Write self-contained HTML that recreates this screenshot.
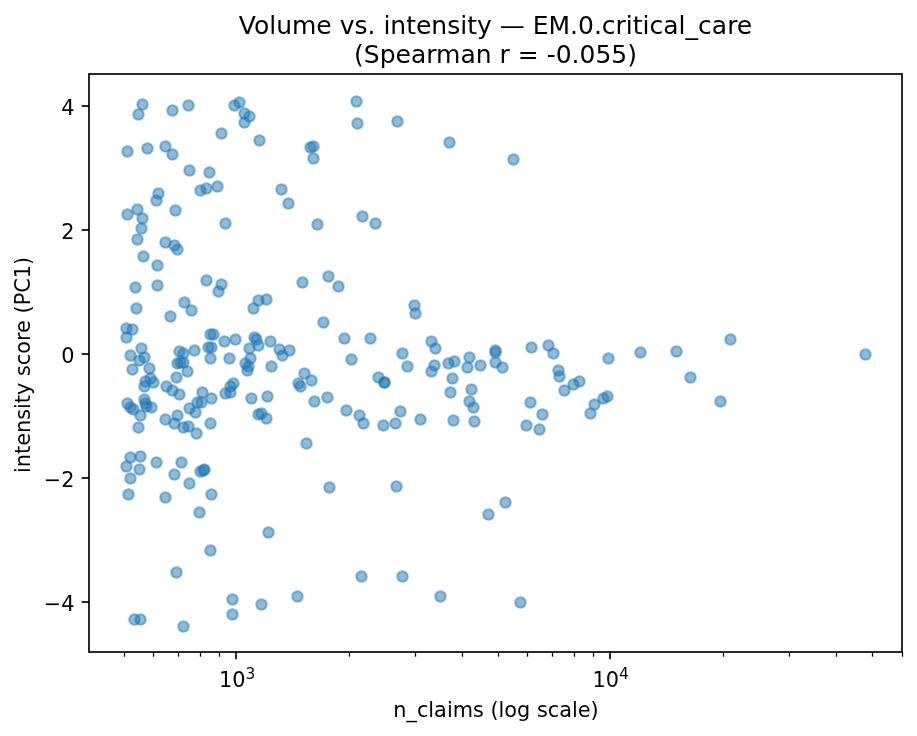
<!DOCTYPE html><html><head><meta charset="utf-8"><title>Volume vs. intensity</title><style>
html,body{margin:0;padding:0;background:#fff;width:917px;height:736px;overflow:hidden}
svg{display:block;will-change:transform}
text{font-family:"DejaVu Sans","Liberation Sans",sans-serif;fill:#000}
</style></head><body>
<svg width="917" height="736" viewBox="0 0 917 736">
<rect x="0" y="0" width="917" height="736" fill="#fff"/>
<g fill="#1f77b4" fill-opacity="0.5" stroke="#1f77b4" stroke-opacity="0.5" stroke-width="2.083">
<circle cx="142.50" cy="104.50" r="5.21"/>
<circle cx="138.50" cy="114.50" r="5.21"/>
<circle cx="172.50" cy="110.50" r="5.21"/>
<circle cx="188.50" cy="105.50" r="5.21"/>
<circle cx="234.50" cy="105.50" r="5.21"/>
<circle cx="239.50" cy="102.50" r="5.21"/>
<circle cx="244.50" cy="113.50" r="5.21"/>
<circle cx="249.50" cy="116.50" r="5.21"/>
<circle cx="244.50" cy="122.50" r="5.21"/>
<circle cx="221.50" cy="133.50" r="5.21"/>
<circle cx="259.50" cy="140.50" r="5.21"/>
<circle cx="127.50" cy="151.50" r="5.21"/>
<circle cx="147.50" cy="148.50" r="5.21"/>
<circle cx="165.50" cy="146.50" r="5.21"/>
<circle cx="172.50" cy="154.50" r="5.21"/>
<circle cx="189.50" cy="170.50" r="5.21"/>
<circle cx="209.50" cy="172.50" r="5.21"/>
<circle cx="200.50" cy="190.50" r="5.21"/>
<circle cx="206.50" cy="188.50" r="5.21"/>
<circle cx="217.50" cy="186.50" r="5.21"/>
<circle cx="158.50" cy="193.50" r="5.21"/>
<circle cx="156.50" cy="200.50" r="5.21"/>
<circle cx="175.50" cy="210.50" r="5.21"/>
<circle cx="225.50" cy="223.50" r="5.21"/>
<circle cx="137.50" cy="209.50" r="5.21"/>
<circle cx="127.50" cy="214.50" r="5.21"/>
<circle cx="142.50" cy="218.50" r="5.21"/>
<circle cx="141.50" cy="228.50" r="5.21"/>
<circle cx="137.50" cy="239.50" r="5.21"/>
<circle cx="165.50" cy="242.50" r="5.21"/>
<circle cx="174.50" cy="245.50" r="5.21"/>
<circle cx="177.50" cy="249.50" r="5.21"/>
<circle cx="143.50" cy="256.50" r="5.21"/>
<circle cx="356.50" cy="101.50" r="5.21"/>
<circle cx="357.50" cy="123.50" r="5.21"/>
<circle cx="397.50" cy="121.50" r="5.21"/>
<circle cx="449.50" cy="142.50" r="5.21"/>
<circle cx="310.50" cy="147.50" r="5.21"/>
<circle cx="313.50" cy="146.50" r="5.21"/>
<circle cx="313.50" cy="158.50" r="5.21"/>
<circle cx="281.50" cy="189.50" r="5.21"/>
<circle cx="288.50" cy="203.50" r="5.21"/>
<circle cx="317.50" cy="224.50" r="5.21"/>
<circle cx="362.50" cy="216.50" r="5.21"/>
<circle cx="375.50" cy="223.50" r="5.21"/>
<circle cx="513.50" cy="159.50" r="5.21"/>
<circle cx="157.50" cy="265.50" r="5.21"/>
<circle cx="135.50" cy="287.50" r="5.21"/>
<circle cx="157.50" cy="285.50" r="5.21"/>
<circle cx="136.50" cy="308.50" r="5.21"/>
<circle cx="170.50" cy="316.50" r="5.21"/>
<circle cx="126.50" cy="328.50" r="5.21"/>
<circle cx="132.50" cy="329.50" r="5.21"/>
<circle cx="126.50" cy="337.50" r="5.21"/>
<circle cx="206.50" cy="280.50" r="5.21"/>
<circle cx="221.50" cy="284.50" r="5.21"/>
<circle cx="218.50" cy="291.50" r="5.21"/>
<circle cx="184.50" cy="302.50" r="5.21"/>
<circle cx="191.50" cy="310.50" r="5.21"/>
<circle cx="258.50" cy="300.50" r="5.21"/>
<circle cx="266.50" cy="299.50" r="5.21"/>
<circle cx="253.50" cy="308.50" r="5.21"/>
<circle cx="141.50" cy="348.50" r="5.21"/>
<circle cx="130.50" cy="355.50" r="5.21"/>
<circle cx="144.50" cy="357.50" r="5.21"/>
<circle cx="139.50" cy="360.50" r="5.21"/>
<circle cx="132.50" cy="369.50" r="5.21"/>
<circle cx="149.50" cy="368.50" r="5.21"/>
<circle cx="166.50" cy="386.50" r="5.21"/>
<circle cx="172.50" cy="390.50" r="5.21"/>
<circle cx="150.50" cy="378.50" r="5.21"/>
<circle cx="145.50" cy="381.50" r="5.21"/>
<circle cx="153.50" cy="382.50" r="5.21"/>
<circle cx="144.50" cy="386.50" r="5.21"/>
<circle cx="210.50" cy="334.50" r="5.21"/>
<circle cx="213.50" cy="334.50" r="5.21"/>
<circle cx="224.50" cy="341.50" r="5.21"/>
<circle cx="235.50" cy="339.50" r="5.21"/>
<circle cx="254.50" cy="337.50" r="5.21"/>
<circle cx="256.50" cy="339.50" r="5.21"/>
<circle cx="258.50" cy="345.50" r="5.21"/>
<circle cx="249.50" cy="348.50" r="5.21"/>
<circle cx="194.50" cy="350.50" r="5.21"/>
<circle cx="208.50" cy="347.50" r="5.21"/>
<circle cx="211.50" cy="347.50" r="5.21"/>
<circle cx="210.50" cy="358.50" r="5.21"/>
<circle cx="229.50" cy="358.50" r="5.21"/>
<circle cx="179.50" cy="351.50" r="5.21"/>
<circle cx="183.50" cy="353.50" r="5.21"/>
<circle cx="177.50" cy="363.50" r="5.21"/>
<circle cx="183.50" cy="362.50" r="5.21"/>
<circle cx="187.50" cy="371.50" r="5.21"/>
<circle cx="176.50" cy="377.50" r="5.21"/>
<circle cx="250.50" cy="358.50" r="5.21"/>
<circle cx="245.50" cy="363.50" r="5.21"/>
<circle cx="248.50" cy="366.50" r="5.21"/>
<circle cx="247.50" cy="370.50" r="5.21"/>
<circle cx="233.50" cy="383.50" r="5.21"/>
<circle cx="230.50" cy="386.50" r="5.21"/>
<circle cx="225.50" cy="393.50" r="5.21"/>
<circle cx="230.50" cy="392.50" r="5.21"/>
<circle cx="251.50" cy="398.50" r="5.21"/>
<circle cx="202.50" cy="392.50" r="5.21"/>
<circle cx="211.50" cy="398.50" r="5.21"/>
<circle cx="201.50" cy="402.50" r="5.21"/>
<circle cx="197.50" cy="402.50" r="5.21"/>
<circle cx="189.50" cy="408.50" r="5.21"/>
<circle cx="179.50" cy="394.50" r="5.21"/>
<circle cx="127.50" cy="403.50" r="5.21"/>
<circle cx="130.50" cy="407.50" r="5.21"/>
<circle cx="133.50" cy="409.50" r="5.21"/>
<circle cx="140.50" cy="415.50" r="5.21"/>
<circle cx="144.50" cy="399.50" r="5.21"/>
<circle cx="145.50" cy="403.50" r="5.21"/>
<circle cx="146.50" cy="406.50" r="5.21"/>
<circle cx="151.50" cy="407.50" r="5.21"/>
<circle cx="138.50" cy="427.50" r="5.21"/>
<circle cx="165.50" cy="419.50" r="5.21"/>
<circle cx="177.50" cy="415.50" r="5.21"/>
<circle cx="174.50" cy="423.50" r="5.21"/>
<circle cx="130.50" cy="457.50" r="5.21"/>
<circle cx="140.50" cy="456.50" r="5.21"/>
<circle cx="126.50" cy="466.50" r="5.21"/>
<circle cx="139.50" cy="469.50" r="5.21"/>
<circle cx="130.50" cy="478.50" r="5.21"/>
<circle cx="156.50" cy="462.50" r="5.21"/>
<circle cx="174.50" cy="474.50" r="5.21"/>
<circle cx="195.50" cy="412.50" r="5.21"/>
<circle cx="183.50" cy="427.50" r="5.21"/>
<circle cx="188.50" cy="426.50" r="5.21"/>
<circle cx="196.50" cy="433.50" r="5.21"/>
<circle cx="210.50" cy="423.50" r="5.21"/>
<circle cx="258.50" cy="414.50" r="5.21"/>
<circle cx="261.50" cy="413.50" r="5.21"/>
<circle cx="181.50" cy="462.50" r="5.21"/>
<circle cx="189.50" cy="483.50" r="5.21"/>
<circle cx="200.50" cy="471.50" r="5.21"/>
<circle cx="204.50" cy="469.50" r="5.21"/>
<circle cx="203.50" cy="470.50" r="5.21"/>
<circle cx="302.50" cy="282.50" r="5.21"/>
<circle cx="328.50" cy="276.50" r="5.21"/>
<circle cx="338.50" cy="286.50" r="5.21"/>
<circle cx="323.50" cy="322.50" r="5.21"/>
<circle cx="270.50" cy="341.50" r="5.21"/>
<circle cx="279.50" cy="349.50" r="5.21"/>
<circle cx="289.50" cy="350.50" r="5.21"/>
<circle cx="282.50" cy="355.50" r="5.21"/>
<circle cx="271.50" cy="366.50" r="5.21"/>
<circle cx="304.50" cy="373.50" r="5.21"/>
<circle cx="311.50" cy="380.50" r="5.21"/>
<circle cx="298.50" cy="383.50" r="5.21"/>
<circle cx="300.50" cy="386.50" r="5.21"/>
<circle cx="267.50" cy="396.50" r="5.21"/>
<circle cx="314.50" cy="401.50" r="5.21"/>
<circle cx="327.50" cy="397.50" r="5.21"/>
<circle cx="344.50" cy="338.50" r="5.21"/>
<circle cx="266.50" cy="418.50" r="5.21"/>
<circle cx="346.50" cy="410.50" r="5.21"/>
<circle cx="306.50" cy="443.50" r="5.21"/>
<circle cx="414.50" cy="305.50" r="5.21"/>
<circle cx="415.50" cy="313.50" r="5.21"/>
<circle cx="370.50" cy="338.50" r="5.21"/>
<circle cx="351.50" cy="359.50" r="5.21"/>
<circle cx="402.50" cy="353.50" r="5.21"/>
<circle cx="407.50" cy="366.50" r="5.21"/>
<circle cx="431.50" cy="341.50" r="5.21"/>
<circle cx="435.50" cy="348.50" r="5.21"/>
<circle cx="434.50" cy="365.50" r="5.21"/>
<circle cx="431.50" cy="371.50" r="5.21"/>
<circle cx="378.50" cy="377.50" r="5.21"/>
<circle cx="384.50" cy="382.50" r="5.21"/>
<circle cx="384.50" cy="382.50" r="5.21"/>
<circle cx="448.50" cy="363.50" r="5.21"/>
<circle cx="454.50" cy="361.50" r="5.21"/>
<circle cx="469.50" cy="357.50" r="5.21"/>
<circle cx="467.50" cy="367.50" r="5.21"/>
<circle cx="480.50" cy="365.50" r="5.21"/>
<circle cx="495.50" cy="350.50" r="5.21"/>
<circle cx="495.50" cy="352.50" r="5.21"/>
<circle cx="495.50" cy="362.50" r="5.21"/>
<circle cx="502.50" cy="367.50" r="5.21"/>
<circle cx="452.50" cy="378.50" r="5.21"/>
<circle cx="450.50" cy="392.50" r="5.21"/>
<circle cx="471.50" cy="389.50" r="5.21"/>
<circle cx="469.50" cy="401.50" r="5.21"/>
<circle cx="473.50" cy="407.50" r="5.21"/>
<circle cx="359.50" cy="415.50" r="5.21"/>
<circle cx="363.50" cy="423.50" r="5.21"/>
<circle cx="383.50" cy="425.50" r="5.21"/>
<circle cx="395.50" cy="423.50" r="5.21"/>
<circle cx="400.50" cy="411.50" r="5.21"/>
<circle cx="420.50" cy="419.50" r="5.21"/>
<circle cx="453.50" cy="420.50" r="5.21"/>
<circle cx="474.50" cy="421.50" r="5.21"/>
<circle cx="396.50" cy="486.50" r="5.21"/>
<circle cx="505.50" cy="502.50" r="5.21"/>
<circle cx="488.50" cy="514.50" r="5.21"/>
<circle cx="361.50" cy="576.50" r="5.21"/>
<circle cx="402.50" cy="576.50" r="5.21"/>
<circle cx="531.50" cy="347.50" r="5.21"/>
<circle cx="548.50" cy="345.50" r="5.21"/>
<circle cx="553.50" cy="353.50" r="5.21"/>
<circle cx="608.50" cy="358.50" r="5.21"/>
<circle cx="640.50" cy="352.50" r="5.21"/>
<circle cx="676.50" cy="351.50" r="5.21"/>
<circle cx="690.50" cy="377.50" r="5.21"/>
<circle cx="558.50" cy="370.50" r="5.21"/>
<circle cx="559.50" cy="376.50" r="5.21"/>
<circle cx="564.50" cy="390.50" r="5.21"/>
<circle cx="573.50" cy="384.50" r="5.21"/>
<circle cx="579.50" cy="381.50" r="5.21"/>
<circle cx="530.50" cy="402.50" r="5.21"/>
<circle cx="542.50" cy="414.50" r="5.21"/>
<circle cx="526.50" cy="425.50" r="5.21"/>
<circle cx="539.50" cy="429.50" r="5.21"/>
<circle cx="594.50" cy="404.50" r="5.21"/>
<circle cx="590.50" cy="413.50" r="5.21"/>
<circle cx="603.50" cy="398.50" r="5.21"/>
<circle cx="607.50" cy="396.50" r="5.21"/>
<circle cx="730.50" cy="339.50" r="5.21"/>
<circle cx="865.50" cy="354.50" r="5.21"/>
<circle cx="720.50" cy="401.50" r="5.21"/>
<circle cx="128.50" cy="494.50" r="5.21"/>
<circle cx="165.50" cy="497.50" r="5.21"/>
<circle cx="211.50" cy="494.50" r="5.21"/>
<circle cx="199.50" cy="512.50" r="5.21"/>
<circle cx="268.50" cy="532.50" r="5.21"/>
<circle cx="210.50" cy="550.50" r="5.21"/>
<circle cx="176.50" cy="572.50" r="5.21"/>
<circle cx="232.50" cy="599.50" r="5.21"/>
<circle cx="232.50" cy="614.50" r="5.21"/>
<circle cx="261.50" cy="604.50" r="5.21"/>
<circle cx="134.50" cy="619.50" r="5.21"/>
<circle cx="140.50" cy="619.50" r="5.21"/>
<circle cx="183.50" cy="626.50" r="5.21"/>
<circle cx="329.50" cy="487.50" r="5.21"/>
<circle cx="297.50" cy="596.50" r="5.21"/>
<circle cx="440.50" cy="596.50" r="5.21"/>
<circle cx="520.50" cy="602.50" r="5.21"/>
<circle cx="180.50" cy="362.50" r="5.21"/>
</g>
<rect x="89.0" y="74.0" width="813.0" height="578.0" fill="none" stroke="#000" stroke-width="1.667" stroke-linejoin="miter"/>
<g stroke="#000" stroke-width="1.667">
<line x1="81.71" y1="106.00" x2="89.0" y2="106.00"/>
<line x1="81.71" y1="230.00" x2="89.0" y2="230.00"/>
<line x1="81.71" y1="354.00" x2="89.0" y2="354.00"/>
<line x1="81.71" y1="478.00" x2="89.0" y2="478.00"/>
<line x1="81.71" y1="602.00" x2="89.0" y2="602.00"/>
<line x1="236.00" y1="652.0" x2="236.00" y2="659.29"/>
<line x1="610.00" y1="652.0" x2="610.00" y2="659.29"/>
</g>
<g stroke="#000" stroke-width="1.250">
<line x1="124.50" y1="652.0" x2="124.50" y2="656.70"/>
<line x1="153.50" y1="652.0" x2="153.50" y2="656.70"/>
<line x1="178.50" y1="652.0" x2="178.50" y2="656.70"/>
<line x1="200.50" y1="652.0" x2="200.50" y2="656.70"/>
<line x1="219.50" y1="652.0" x2="219.50" y2="656.70"/>
<line x1="349.50" y1="652.0" x2="349.50" y2="656.70"/>
<line x1="415.50" y1="652.0" x2="415.50" y2="656.70"/>
<line x1="462.50" y1="652.0" x2="462.50" y2="656.70"/>
<line x1="498.50" y1="652.0" x2="498.50" y2="656.70"/>
<line x1="527.50" y1="652.0" x2="527.50" y2="656.70"/>
<line x1="552.50" y1="652.0" x2="552.50" y2="656.70"/>
<line x1="574.50" y1="652.0" x2="574.50" y2="656.70"/>
<line x1="593.50" y1="652.0" x2="593.50" y2="656.70"/>
<line x1="723.50" y1="652.0" x2="723.50" y2="656.70"/>
<line x1="789.50" y1="652.0" x2="789.50" y2="656.70"/>
<line x1="836.50" y1="652.0" x2="836.50" y2="656.70"/>
<line x1="872.50" y1="652.0" x2="872.50" y2="656.70"/>
<line x1="902.50" y1="652.0" x2="902.50" y2="656.70"/>
</g>
<text x="74.42" y="114.60" font-size="20.83" text-anchor="end">4</text>
<text x="74.42" y="238.60" font-size="20.83" text-anchor="end">2</text>
<text x="74.42" y="362.60" font-size="20.83" text-anchor="end">0</text>
<text x="74.42" y="486.60" font-size="20.83" text-anchor="end">−2</text>
<text x="74.42" y="610.60" font-size="20.83" text-anchor="end">−4</text>
<text x="237.30" y="687.28" font-size="20.83" text-anchor="middle">10<tspan font-size="15.5" dy="-8.5">3</tspan></text>
<text x="610.60" y="687.28" font-size="20.83" text-anchor="middle">10<tspan font-size="15.5" dy="-8.5">4</tspan></text>
<text x="496.00" y="716.9" font-size="20.83" text-anchor="middle">n_claims (log scale)</text>
<text transform="translate(30 364.90) rotate(-90)" font-size="20.83" text-anchor="middle">intensity score (PC1)</text>
<text x="495.50" y="33.9" font-size="25.0" text-anchor="middle">Volume vs. intensity — EM.0.critical_care</text>
<text x="495.50" y="62.7" font-size="25.0" text-anchor="middle">(Spearman r = -0.055)</text>
</svg></body></html>
